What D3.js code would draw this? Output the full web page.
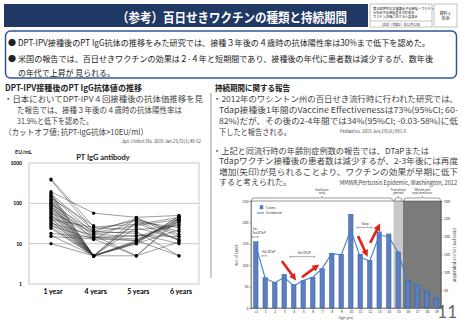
<!doctype html>
<html lang="ja">
<head>
<meta charset="utf-8">
<title>百日せきワクチンの種類と持続期間</title>
<script src="https://d3js.org/d3.v7.min.js"></script>
<style>
  body { margin: 0; background: #fff; }
  svg { display: block; }
  text { font-family: "Noto Sans CJK JP", "Noto Sans", sans-serif; }
</style>
</head>
<body>
<script>
// left chart: PT IgG antibody (EU/ml), one entry per child
var timePoints = ["1 year", "4 years", "5 years", "6 years"];
var igg1y = [400, 380, 195, 180, 170, 160, 150, 145, 135, 125, 120, 110, 105, 100, 95, 90, 85, 80, 75, 70,
             66, 62, 58, 55, 52, 48, 45, 42, 40, 37, 35, 32, 30, 28, 26, 24, 18, 16, 15, 10];
var igg4y = [26, 20, 57, 5, 22, 5, 18, 5, 28, 5, 15, 5, 13, 5, 20, 5, 5, 17, 5, 14,
             5, 5, 19, 5, 5, 13, 5, 5, 25, 5, 5, 16, 5, 13, 5, 5, 14, 5, 13, 5];
var igg5y = [30, 42, 45, 12, 38, 5, 20, 11, null, 25, 13, null, 40, 10, 18, null, 35, 15, null, 12,
             44, null, 28, null, 11, 5, null, 33, 22, null, 10, 5, null, 12, null, null, 16, null, null, 11];
var igg6y = [45, 15, 50, 40, 12, 38, 5, 42, null, 13, 35, null, 20, 48, 10, null, 25, 30, null, 5,
             17, null, 40, null, 33, 44, null, 12, 28, null, 22, 11, null, 37, null, null, 15, null, null, 47];
var iggTicks = [1, 10, 100, 1000];

// right chart: Washington 2012 pertussis cases by age
var ageLabels = ["<1", "1", "2", "3", "4", "5", "6", "7", "8", "9", "10", "11", "12", "13", "14", "15", "16", "17", "18", "19"];
var cases = [155, 71, 60, 79, 55, 64, 72, 92, 128, 126, 219, 126, 111, 178, 173, 131, 64, 54, 39, 22];
var incidence = [176, 83, 71, 86, 62, 77, 86, 111, 153, 148, 220, 142, 132, 204, 200, 155, 74, 60, 46, 30];
var caseTicks = [0, 50, 100, 150, 200, 250];
var incidenceTicks = [50, 100, 150, 200, 250, 300];
// red arrows (age index, cases)
var trendArrows = [[2.75, 110, 4.0, 72], [4.86, 72, 6.34, 96], [10.77, 168, 11.6, 128], [12.04, 152, 12.9, 189]];

var svg = d3.select("body").append("svg")
    .attr("width", 462)
    .attr("height", 320);

function txt(x, y, s, size, opt) {
  opt = opt || {};
  var t = svg.append("text")
      .attr("x", x).attr("y", y)
      .attr("dominant-baseline", "central")
      .attr("font-size", size)
      .attr("fill", opt.fill || "#222")
      .attr("font-weight", opt.bold ? "bold" : "normal")
      .attr("text-anchor", opt.anchor || "start")
      .text(s);
  if (opt.len) t.attr("textLength", opt.len).attr("lengthAdjust", "spacingAndGlyphs");
  if (opt.family) t.style("font-family", opt.family);
  return t;
}

// ---- header ----
svg.append("rect").attr("x", 4).attr("y", 4).attr("width", 364).attr("height", 23).attr("fill", "#203864");
txt(117, 16, "（参考）百日せきワクチンの種類と持続期間", 13, { bold: true, fill: "#fff", len: 230 });

svg.append("rect").attr("x", 370).attr("y", 4).attr("width", 62).attr("height", 23)
    .attr("fill", "#fff").attr("stroke", "#888").attr("stroke-width", 0.5);
svg.append("line").attr("x1", 370).attr("x2", 432).attr("y1", 21).attr("y2", 21).attr("stroke", "#888").attr("stroke-width", 0.5);
txt(373, 8, "第16回厚生科学審議会予防接種・ワクチン", 3.2);
txt(373, 12, "分科会予防接種基本方針部会", 3.2);
txt(373, 16, "ワクチン評価に関する小委員会", 3.2);
txt(401, 24, "2020（令和2）年11月12日", 3.2, { anchor: "middle" });
svg.append("rect").attr("x", 434).attr("y", 4).attr("width", 23).attr("height", 23)
    .attr("fill", "#fff").attr("stroke", "#888").attr("stroke-width", 0.5);
txt(445.5, 13, "資料１", 4, { anchor: "middle" });
txt(445.5, 18, "別添", 4, { anchor: "middle" });

// ---- summary box ----
svg.append("rect").attr("x", 5.5).attr("y", 31).attr("width", 451).attr("height", 47).attr("rx", 5)
    .attr("fill", "#fff").attr("stroke", "#2f5597").attr("stroke-width", 1.5);
txt(8, 42, "●", 8);
txt(18, 42, "DPT-IPV接種後のPT IgG抗体の推移をみた研究では、接種３年後の４歳時の抗体陽性率は30%まで低下を認めた。", 8.3, { len: 412 });
txt(8, 58, "●", 8);
txt(18, 58, "米国の報告では、百日せきワクチンの効果は２-４年と短期間であり、接種後の年代に患者数は減少するが、数年後", 8.3, { len: 415 });
txt(18, 72, "の年代で上昇が 見られる。", 8.3, { len: 97 });

// ---- left text ----
txt(5, 87, "DPT-IPV接種後のPT IgG抗体値の推移", 8.3, { bold: true, len: 137 });
txt(4, 97.5, "・日本においてDPT-IPV４回接種後の抗体価推移を見", 8.2, { len: 199, fill: "#444" });
txt(17, 108.5, "た報告では、接種３年後の４歳時の抗体陽性率は", 8.2, { len: 165, fill: "#444" });
txt(17, 119.5, "31.9%と低下を認めた。", 8.2, { len: 76, fill: "#444" });
txt(4, 130.5, "（カットオフ値; 抗PT-IgG抗体>10EU/ml）", 8.2, { len: 144, fill: "#444" });
txt(201, 140.5, "Jpn J Infect Dis. 2019 Jan 23;72(1):49-52", 4.3, { anchor: "end", fill: "#444" });

svg.append("line").attr("x1", 211).attr("x2", 211).attr("y1", 93).attr("y2", 278)
    .attr("stroke", "#999").attr("stroke-width", 1);

// ---- right text ----
txt(215, 87, "持続期間に関する報告", 8.3, { bold: true, len: 75 });
txt(213, 97.5, "・2012年のワシントン州の百日せき流行時に行われた研究では、", 8.2, { len: 245, fill: "#444" });
txt(219, 108.5, "Tdap接種後1年間のVaccine Effectivenessは73%(95%CI; 60-", 8.2, { len: 239, fill: "#444" });
txt(219, 119.5, "82%)だが、その後の2-4年間では34%(95%CI; -0.03-58%)に低", 8.2, { len: 239, fill: "#444" });
txt(219, 130.5, "下したと報告される。", 8.2, { len: 72, fill: "#444" });
txt(340, 131, "Pediatrics. 2015 Jun;135(6):981-9.", 4.3, { fill: "#444" });
txt(213, 149.5, "・上記と同流行時の年齢別症例数の報告では、DTaPまたは", 8.2, { len: 216, fill: "#444" });
txt(219, 160, "Tdapワクチン接種後の患者数は減少するが、2-3年後には再度", 8.2, { len: 239, fill: "#444" });
txt(219, 170.5, "増加(矢印)が見られることより、ワクチンの効果が早期に低下", 8.2, { len: 239, fill: "#444" });
txt(219, 181, "すると考えられた。", 8.2, { len: 72, fill: "#444" });
txt(457, 182.5, "MMWR;Pertussis Epidemic, Washington, 2012", 5.6, { anchor: "end", fill: "#444" });

// ---- left chart ----
var xL = d3.scalePoint().domain(timePoints).range([51, 179]);
var yL = d3.scaleLog().domain([1, 1000]).range([284, 163]);
var left = svg.append("g");

left.append("rect").attr("x", 29).attr("y", 163).attr("width", 170).attr("height", 121)
    .attr("fill", "none").attr("stroke", "#bbb").attr("stroke-width", 0.8);
left.selectAll(".grid").data([10, 100]).enter().append("line")
    .attr("x1", 29).attr("x2", 199)
    .attr("y1", d => yL(d)).attr("y2", d => yL(d))
    .attr("stroke", "#bbb").attr("stroke-width", 0.8);

var children = igg1y.map((v, i) => [v, igg4y[i], igg5y[i], igg6y[i]]
    .map((val, j) => ({ t: timePoints[j], v: val })));

var lineL = d3.line()
    .defined(d => d.v != null)
    .x(d => xL(d.t))
    .y(d => yL(d.v));

left.selectAll(".child").data(children).enter().append("path")
    .attr("d", lineL)
    .attr("fill", "none")
    .attr("stroke", "#333")
    .attr("stroke-opacity", 0.8)
    .attr("stroke-width", 0.6);

left.selectAll(".pt").data(children.flat().filter(d => d.v != null)).enter().append("circle")
    .attr("cx", d => xL(d.t))
    .attr("cy", d => yL(d.v))
    .attr("r", 1.6)
    .attr("fill", "#000");

left.selectAll(".ytick").data(iggTicks).enter().append("text")
    .attr("x", 22).attr("y", d => yL(d))
    .attr("text-anchor", "end").attr("dominant-baseline", "central")
    .attr("font-size", 5).attr("font-weight", "bold")
    .style("font-family", "Lato, sans-serif")
    .text(d => d);

left.selectAll(".xtick").data(timePoints).enter().append("text")
    .attr("x", d => xL(d) + 2).attr("y", 291)
    .attr("text-anchor", "middle").attr("dominant-baseline", "central")
    .attr("font-size", 7).attr("font-weight", "bold")
    .style("font-family", "Lato, sans-serif")
    .text(d => d);

txt(15, 152, "EU/mL", 5.5, { bold: true, family: "Lato, sans-serif" });
txt(103, 157, "PT IgG antibody", 7.5, { bold: true, anchor: "middle", family: "Lato, sans-serif" });

// ---- right chart ----
var xR = d3.scaleLinear().domain([-0.5, 19.5]).range([251, 441]);
var yC = d3.scaleLinear().domain([0, 250]).range([308, 201]);
var yI = d3.scaleLinear().domain([0, 300]).range([308, 201]);
var right = svg.append("g").style("font-family", "Liberation Sans, sans-serif");

right.append("rect").attr("x", xR(14.5)).attr("y", 201).attr("width", xR(15.5) - xR(14.5)).attr("height", 107)
    .attr("fill", "#c9c9c9");
right.append("rect").attr("x", xR(15.5)).attr("y", 201).attr("width", xR(19.5) - xR(15.5)).attr("height", 107)
    .attr("fill", "#7b7b7b");
right.append("rect").attr("x", 251).attr("y", 201).attr("width", 190).attr("height", 107)
    .attr("fill", "none").attr("stroke", "#333").attr("stroke-width", 0.5);

right.selectAll(".bar").data(cases).enter().append("rect")
    .attr("x", (d, i) => xR(i) - 2.3)
    .attr("y", d => yC(d))
    .attr("width", 4.6)
    .attr("height", d => 308 - yC(d))
    .attr("fill", "#5b7fc0")
    .attr("stroke", "#2d4f8e")
    .attr("stroke-width", 0.4);

var lineR = d3.line().x((d, i) => xR(i)).y(d => yI(d));
right.append("path").datum(incidence)
    .attr("d", lineR)
    .attr("fill", "none")
    .attr("stroke", "#3f7fcc")
    .attr("stroke-width", 1.1);

var axL = right.append("g").attr("transform", "translate(251,0)")
    .call(d3.axisLeft(yC).tickValues(caseTicks).tickSize(1.5).tickPadding(1));
var axR = right.append("g").attr("transform", "translate(441,0)")
    .call(d3.axisRight(yI).tickValues(incidenceTicks).tickSize(1.5).tickPadding(1.5));
var axB = right.append("g").attr("transform", "translate(0,308)")
    .call(d3.axisBottom(xR).tickValues(d3.range(20)).tickFormat(i => ageLabels[i]).tickSize(1.5).tickPadding(0.8));
[axL, axR, axB].forEach(function(a) {
  a.attr("font-size", 3.6).attr("font-family", null);
  a.selectAll("path, line").attr("stroke", "#333").attr("stroke-width", 0.4);
  a.selectAll("text").attr("fill", "#333");
});

right.append("text").attr("x", 346).attr("y", 318.8).attr("text-anchor", "middle")
    .attr("font-size", 3.6).attr("fill", "#333").text("Age (yrs)");
right.append("text").attr("transform", "translate(238,255) rotate(-90)").attr("text-anchor", "middle")
    .attr("font-size", 3.8).attr("fill", "#333").text("No. of cases");
right.append("text").attr("transform", "translate(453,255) rotate(90)").attr("text-anchor", "middle")
    .attr("font-size", 4).attr("fill", "#333").text("Cases per 100,000 population");

// period brackets above the plot
var periods = [
  { a: -0.5, b: 14.45, lines: ["Acellular", "only"] },
  { a: 14.55, b: 15.45, lines: ["Transition", "period"] },
  { a: 15.55, b: 19.5, lines: ["Whole cell", "and acellular"] }
];
periods.forEach(function(p) {
  var x1 = xR(p.a) + 0.5, x2 = xR(p.b) - 0.5, xm = (x1 + x2) / 2, y = 198;
  right.append("path")
      .attr("d", "M" + x1 + "," + (y + 3) + "Q" + x1 + "," + y + " " + (x1 + 2) + "," + y +
                 "L" + (xm - 1.5) + "," + y + "Q" + xm + "," + y + " " + xm + "," + (y - 1.5) +
                 "Q" + xm + "," + y + " " + (xm + 1.5) + "," + y +
                 "L" + (x2 - 2) + "," + y + "Q" + x2 + "," + y + " " + x2 + "," + (y + 3))
      .attr("fill", "none").attr("stroke", "#333").attr("stroke-width", 0.5);
  p.lines.forEach(function(s, k) {
    right.append("text").attr("x", xm).attr("y", 190.5 + k * 3.8).attr("text-anchor", "middle")
        .attr("font-size", 3.3).attr("fill", "#333").text(s);
  });
});

// legend
right.append("rect").attr("x", 260).attr("y", 205.5).attr("width", 3).attr("height", 3.5)
    .attr("fill", "#5b7fc0").attr("stroke", "#2d4f8e").attr("stroke-width", 0.3);
right.append("text").attr("x", 266).attr("y", 208.5).attr("font-size", 3.5).attr("fill", "#333").text("Cases");
right.append("line").attr("x1", 257).attr("x2", 264).attr("y1", 213).attr("y2", 213)
    .attr("stroke", "#3f7fcc").attr("stroke-width", 1);
right.append("text").attr("x", 266).attr("y", 214.2).attr("font-size", 3.5).attr("fill", "#333").text("Incidence");

// dose annotations
var doseNotes = [
  { i: -0.35, c: 182, lines: ["1st–", "3rd DTaP"], a: -0.35, b: 0.25, ac: 166 },
  { i: 0.66, c: 128, lines: ["4th DTaP"], a: 0.66, b: 1.1, ac: 122 },
  { i: 4.4, c: 126, lines: ["5th DTaP"], a: 3.6, b: 6.2, ac: 120 },
  { i: 11.1, c: 194, lines: ["Tdap"], a: 10.66, b: 12.2, ac: 188 }
];
doseNotes.forEach(function(n) {
  n.lines.forEach(function(s, k) {
    right.append("text").attr("x", xR(n.i)).attr("y", yC(n.c) + k * 3.6)
        .attr("font-size", 3.2).attr("fill", "#333").text(s);
  });
  var y = yC(n.ac);
  right.append("path")
      .attr("d", "M" + xR(n.a) + "," + (y - 1) + "V" + (y + 1) + "M" + xR(n.a) + "," + y + "H" + xR(n.b) +
                 "M" + xR(n.b) + "," + (y - 1) + "V" + (y + 1))
      .attr("fill", "none").attr("stroke", "#333").attr("stroke-width", 0.4);
});

// red trend arrows
svg.append("defs").append("marker")
    .attr("id", "redhead")
    .attr("markerUnits", "userSpaceOnUse")
    .attr("markerWidth", 7).attr("markerHeight", 7)
    .attr("refX", 3).attr("refY", 3.5)
    .attr("orient", "auto")
    .append("path").attr("d", "M0,0L7,3.5L0,7z").attr("fill", "#e3201b");
right.selectAll(".arrow").data(trendArrows).enter().append("line")
    .attr("x1", d => xR(d[0])).attr("y1", d => yC(d[1]))
    .attr("x2", d => xR(d[2])).attr("y2", d => yC(d[3]))
    .attr("stroke", "#e3201b").attr("stroke-width", 2.6)
    .attr("marker-end", "url(#redhead)");

// page number
txt(457, 311, "11", 17, { anchor: "end", fill: "#666", family: "Lato, sans-serif" });
</script>
</body>
</html>
